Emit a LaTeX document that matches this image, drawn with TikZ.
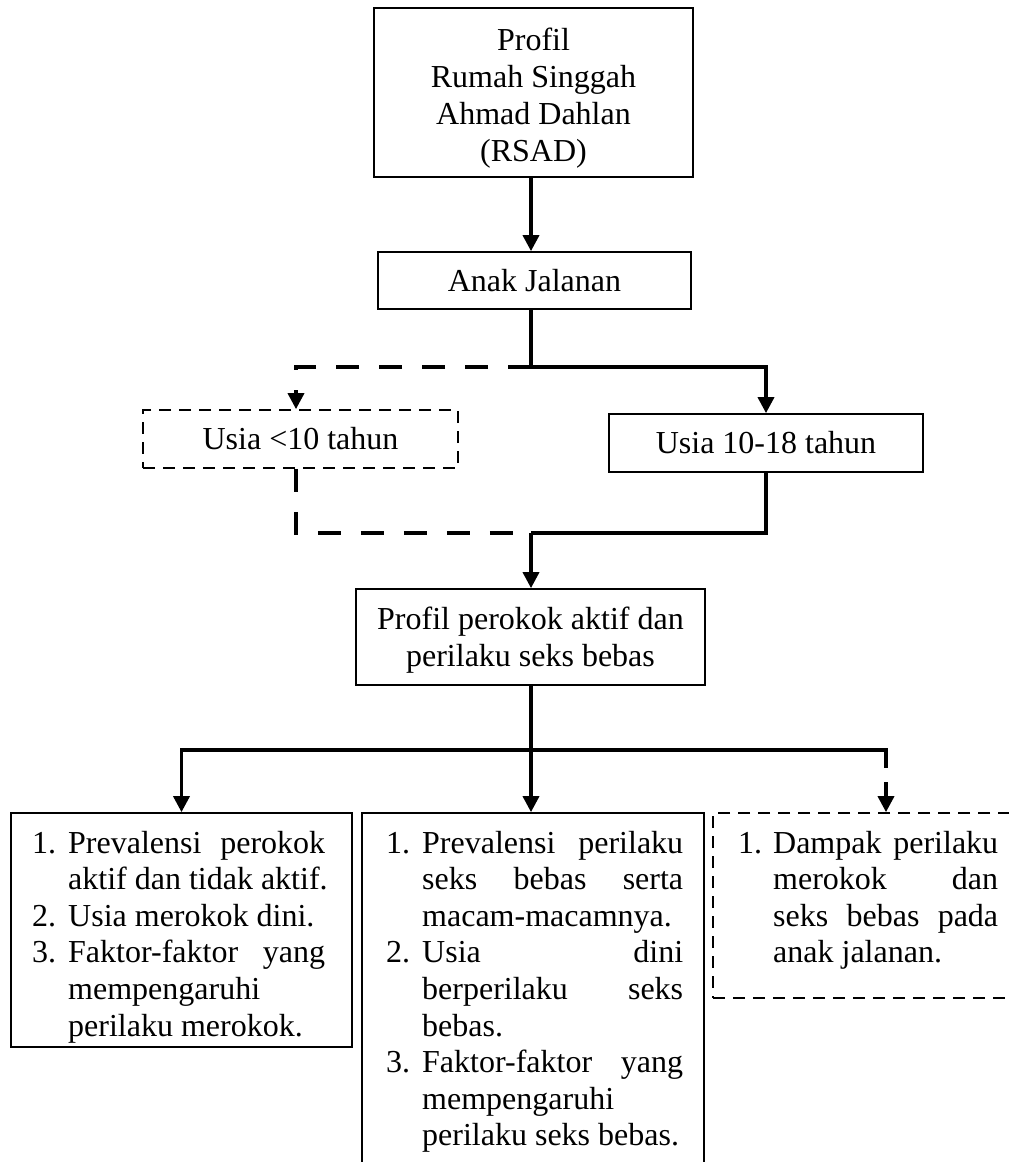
\documentclass[tikz,border=0pt]{standalone}
\usepackage{fontspec}
\setmainfont{Liberation Serif}
\usetikzlibrary{arrows.meta}
\newlength\numw
\newlength\txtw
\newcommand\Lj[2]{\hbox{\hbox to\numw{#1\hfil}\makebox[\txtw][s]{#2}}}
\newcommand\Ln[2]{\hbox{\hbox to\numw{#1\hfil}#2}}
\tikzset{
  box/.style={draw, line width=1.7pt, inner sep=0pt, align=center, font=\fontsize{32}{37}\selectfont},
  dbox/.style={box, dash pattern=on 12pt off 8pt},
  listtext/.style={anchor=base west, inner sep=0pt, font=\fontsize{32}{36.6}\selectfont},
  conn/.style={line width=3.5pt},
  tipped/.style={-{Triangle[length=16pt,width=16pt]}},
  arr/.style={conn, tipped},
  dconn/.style={conn, dash pattern=on 23pt off 20pt},
  dconnb/.style={conn, dash pattern=on 18pt off 14pt}
}
\begin{document}
\begin{tikzpicture}[x=1pt,y=-1pt]
\useasboundingbox (0,0) rectangle (1009,1162);
\clip (0,0) rectangle (1009,1162);
\fill[white] (0,0) rectangle (1009,1162);

% boxes
\node[box, minimum width=319pt, minimum height=169pt] (rsad) at (533.5,92.5) {\rule{0pt}{34pt}Profil\\Rumah Singgah\\Ahmad Dahlan\\(RSAD)};
\node[box, minimum width=313pt, minimum height=57pt] (anak) at (534.5,280.5) {Anak Jalanan};
\node[dbox, minimum width=315pt, minimum height=58pt] (u10) at (300.5,439) {Usia <10 tahun};
\node[box, minimum width=314pt, minimum height=58pt] (u18) at (766,443) {Usia 10-18 tahun};
\node[box, minimum width=349pt, minimum height=96pt] (prof) at (530.5,637) {\rule{0pt}{28pt}Profil perokok aktif dan\\perilaku seks bebas};
\node[box, minimum width=341pt, minimum height=234pt] (b1) at (181.5,930) {};
\node[box, minimum width=342pt, minimum height=377pt] (b2) at (533,1001.5) {};
\node[dbox, minimum width=346pt, minimum height=185pt] (b3) at (886,905.5) {};

% list texts
\node[listtext] (t1) at (32,853) {\setlength\numw{36pt}\setlength\txtw{257pt}\vtop{\baselineskip=36.6pt
  \Lj{1.}{Prevalensi perokok}
  \Ln{}{aktif dan tidak aktif.}
  \Ln{2.}{Usia merokok dini.}
  \Lj{3.}{Faktor-faktor yang}
  \Ln{}{mempengaruhi}
  \Ln{}{perilaku merokok.}}};
\node[listtext] (t2) at (386,853) {\setlength\numw{36pt}\setlength\txtw{261pt}\vtop{\baselineskip=36.6pt
  \Lj{1.}{Prevalensi perilaku}
  \Lj{}{seks bebas serta}
  \Ln{}{macam-macamnya.}
  \Lj{2.}{Usia dini}
  \Lj{}{berperilaku seks}
  \Ln{}{bebas.}
  \Lj{3.}{Faktor-faktor yang}
  \Ln{}{mempengaruhi}
  \Ln{}{perilaku seks bebas.}}};
\node[listtext] (t3) at (738,853) {\setlength\numw{35pt}\setlength\txtw{225pt}\vtop{\baselineskip=36.6pt
  \Lj{1.}{Dampak perilaku}
  \Lj{}{merokok dan}
  \Lj{}{seks bebas pada}
  \Ln{}{anak jalanan.}}};

% junctions
\coordinate (j1) at (531,367);
\coordinate (l10) at (296,439);
\coordinate (j2) at (531,533);
\coordinate (j3) at (531,750);

% connectors
\draw[arr] (rsad.south -| j1) -- (anak.north -| j1);
\draw[conn] (anak.south -| j1) -- (j1);
\draw[arr] (j1) -| (u18.north);
\draw[dconn, tipped] (j1) -| (u10.north -| l10);
\draw[dconn] (u10.south -| l10) |- (j2);
\draw[conn] (u18.south) |- (j2);
\draw[arr] (j2) -- (prof.north -| j2);
\draw[conn] (prof.south -| j3) -- (j3);
\draw[arr] (j3) -| (b1.north);
\draw[arr] (j3) -- (b2.north -| j3);
\draw[conn, line cap=rect] (j3) -- (j3 -| b3.north);
\draw[dconnb, tipped] (j3 -| b3.north) -- (b3.north);
\end{tikzpicture}
\end{document}
